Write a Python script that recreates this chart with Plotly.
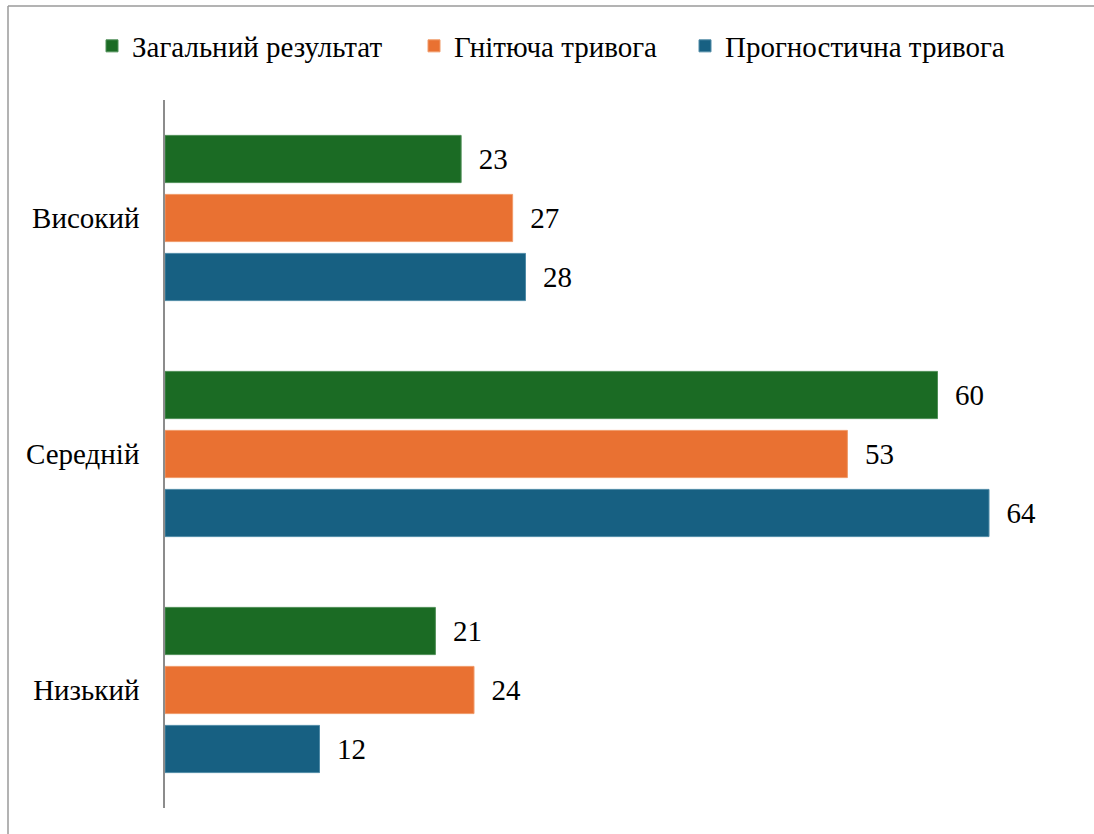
import plotly.graph_objects as go

categories = ["Високий", "Середній", "Низький"]
series_names = ["Загальний результат", "Гнітюча тривога", "Прогностична тривога"]
zagalnyi = [23, 60, 21]
hnitiucha = [27, 53, 24]
prohnostychna = [28, 64, 12]
colors = ["#1b6b24", "#e97132", "#176082"]
edge_colors = ["#4f8f57", "#f09a68", "#4f8aa6"]

FONT = "Liberation Serif"
FS = 29
NB = "\u00a0\u00a0"

W, H = 1094, 834
L, R, T, B = 165, 4, 100, 26
pw = W - L - R
ph = H - T - B
px_per_unit = 12.875

legend_ids = ["legend", "legend2", "legend3"]
legend_left_px = [92, 414, 685]

fig = go.Figure()
for name, vals, col, ecol, lid in zip(series_names, [zagalnyi, hnitiucha, prohnostychna],
                                      colors, edge_colors, legend_ids):
    fig.add_trace(go.Bar(
        y=categories, x=vals, name=name, orientation="h",
        marker=dict(color=col, line=dict(width=1, color=ecol)),
        text=[NB + str(v) for v in vals], textposition="outside",
        textfont=dict(family=FONT, size=FS, color="#000000"),
        cliponaxis=False, legend=lid,
    ))

legends = {}
for lid, lx in zip(legend_ids, legend_left_px):
    legends[lid] = dict(orientation="h", xref="paper", x=(lx - L) / pw, xanchor="left",
                        yref="paper", y=1 + (T - 46) / ph, yanchor="middle",
                        font=dict(family=FONT, size=FS, color="#000000"),
                        itemwidth=30, bgcolor="rgba(0,0,0,0)", borderwidth=0)

fig.update_layout(
    width=W, height=H,
    margin=dict(l=L, r=R, t=T, b=B, pad=0, autoexpand=False),
    paper_bgcolor="white", plot_bgcolor="white",
    barmode="group", bargap=0.25, bargroupgap=0.2,
    font=dict(family=FONT, size=FS, color="#000000"),
    showlegend=True,
    xaxis=dict(range=[0, pw / px_per_unit], showgrid=False, zeroline=False,
               showticklabels=False, showline=False, ticks=""),
    yaxis=dict(autorange="reversed", showgrid=False, zeroline=False,
               showline=True, linecolor="#8c8c8c", linewidth=1.5, ticks="",
               ticklabelstandoff=18,
               tickfont=dict(family=FONT, size=FS, color="#000000")),
    shapes=[
        dict(type="line", xref="paper", yref="paper",
             x0=(8 - L) / pw, x1=1.2, y0=1 + (T - 6) / ph, y1=1 + (T - 6) / ph,
             line=dict(color="#9a9a9a", width=1.5)),
        dict(type="line", xref="paper", yref="paper",
             x0=(8 - L) / pw, x1=(8 - L) / pw, y0=-0.2, y1=1 + (T - 6) / ph,
             line=dict(color="#9a9a9a", width=1.5)),
    ],
    **legends,
)

fig.write_html("out.html", config={"displayModeBar": False},
               post_script="document.body.style.margin='0';document.body.style.overflow='hidden';")
